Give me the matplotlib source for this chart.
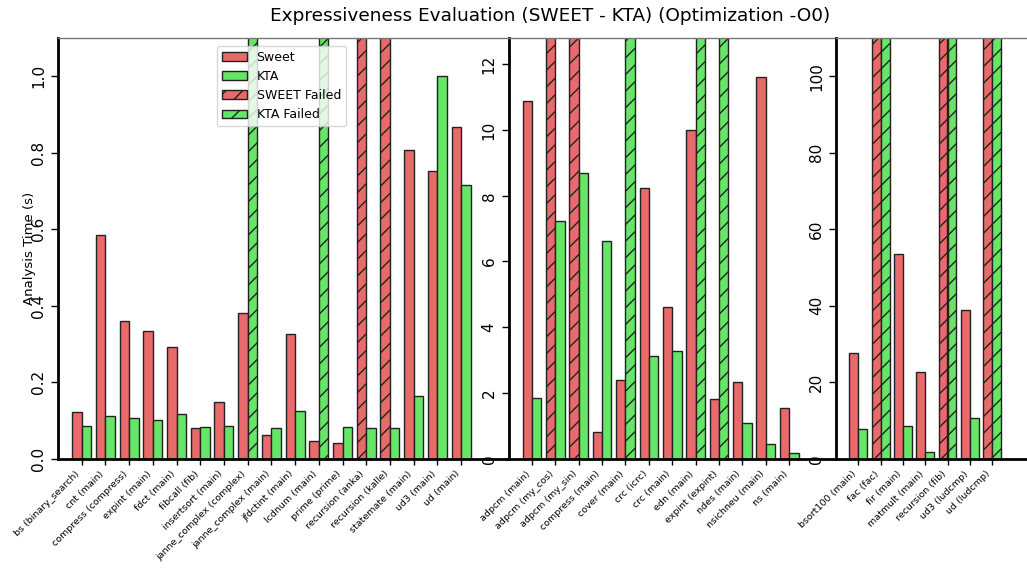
import numpy as np
import matplotlib
matplotlib.use("Agg")
import matplotlib.pyplot as plt
from matplotlib.patches import Patch

# ---------------- data ----------------
labels1 = ["bs (binary_search)", "cnt (main)", "compress (compress)", "expint (main)",
           "fdct (main)", "fibcall (fib)", "insertsort (main)", "janne_complex (complex)",
           "janne_complex (main)", "jfdctint (main)", "lcdnum (main)", "prime (prime)",
           "recursion (anka)", "recursion (kalle)", "statemate (main)", "ud3 (main)", "ud (main)"]
sweet1 = [0.122, 0.584, 0.361, 0.333, 0.293, 0.080, 0.148, 0.380, 0.062, 0.326, 0.046,
          0.041, None, None, 0.806, 0.752, 0.867]
kta1 = [0.086, 0.111, 0.107, 0.101, 0.118, 0.084, 0.085, None, 0.080, 0.125, None,
        0.083, 0.080, 0.080, 0.164, 1.000, 0.715]

labels2 = ["adpcm (main)", "adpcm (my_cos)", "adpcm (my_sin)", "compress (main)",
           "cover (main)", "crc (icrc)", "crc (main)", "edn (main)", "expint (expint)",
           "ndes (main)", "nsichneu (main)", "ns (main)"]
sweet2 = [10.89, None, None, 0.82, 2.38, 8.25, 4.62, 10.0, 1.81, 2.32, 11.62, 1.55]
kta2 = [1.86, 7.22, 8.69, 6.63, None, 3.11, 3.28, None, None, 1.08, 0.45, 0.18]

labels3 = ["bsort100 (main)", "fac (fac)", "fir (main)", "matmult (main)",
           "recursion (fib)", "ud3 (ludcmp)", "ud (ludcmp)"]
sweet3 = [27.6, None, 53.4, 22.6, None, 38.8, None]
kta3 = [7.85, None, 8.56, 1.75, None, 10.7, None]

ylims = [1.1, 12.8, 110]
yticks = [[0.0, 0.2, 0.4, 0.6, 0.8, 1.0], [0, 2, 4, 6, 8, 10, 12], [0, 20, 40, 60, 80, 100]]
ytick_fmt = ["{:.1f}", "{:d}", "{:d}"]

title = "Expressiveness Evaluation (SWEET - KTA) (Optimization -O0)"
ylabel = "Analysis Time (s)"

RED = "#e86a6a"
GREEN = "#66e666"

W, H = 1027, 568
fig = plt.figure(figsize=(W / 100, H / 100), dpi=100)
plt.rcParams['hatch.linewidth'] = 1.0

bottom = (H - 458.7) / H
top = (H - 38) / H
height = top - bottom
positions = [(58, 508.5), (508.5, 836), (836, 1036.7)]

groups = [(labels1, sweet1, kta1), (labels2, sweet2, kta2), (labels3, sweet3, kta3)]
axes = []
for i, ((labs, sw, kt), (l, r)) in enumerate(zip(groups, positions)):
    ax = fig.add_axes([l / W, bottom, (r - l) / W, height])
    axes.append(ax)
    n = len(labs)
    x = np.arange(n)
    ymax = ylims[i]
    bw = 0.4
    for j in range(n):
        s = sw[j]
        k = kt[j]
        if s is None:
            ax.bar(x[j] - bw / 2, ymax * 1.05, bw, color=RED, edgecolor="#222222",
                   linewidth=1.0, hatch="//")
        else:
            ax.bar(x[j] - bw / 2, s, bw, color=RED, edgecolor="#222222", linewidth=1.0)
        if k is None:
            ax.bar(x[j] + bw / 2, ymax * 1.05, bw, color=GREEN, edgecolor="#222222",
                   linewidth=1.0, hatch="//")
        else:
            ax.bar(x[j] + bw / 2, k, bw, color=GREEN, edgecolor="#222222", linewidth=1.0)
    ax.set_xlim(-1, n + 1)
    ax.set_ylim(0, ymax)
    ax.set_xticks(x)
    ax.set_xticklabels(labs, rotation=45, ha="right", fontsize=6.8)
    ax.set_yticks(yticks[i])
    ax.set_yticklabels([ytick_fmt[i].format(v) for v in yticks[i]], rotation=90,
                       va="center", fontsize=11)
    ax.tick_params(axis="x", length=4, width=1, direction="out")
    ax.tick_params(axis="y", length=5, width=1, direction="out")
    ax.spines["left"].set_linewidth(2)
    ax.spines["left"].set_color("black")
    ax.spines["bottom"].set_linewidth(2)
    ax.spines["bottom"].set_color("black")
    ax.spines["top"].set_linewidth(1)
    ax.spines["top"].set_color("#777777")
    ax.spines["right"].set_visible(False)

axes[0].set_ylabel(ylabel, fontsize=9.5)
axes[0].yaxis.set_label_coords(-0.049, 0.5)

handles = [Patch(facecolor=RED, edgecolor="#222222", label="Sweet"),
           Patch(facecolor=GREEN, edgecolor="#222222", label="KTA"),
           Patch(facecolor=RED, edgecolor="#222222", hatch="//", label="SWEET Failed"),
           Patch(facecolor=GREEN, edgecolor="#222222", hatch="//", label="KTA Failed")]
axes[0].legend(handles=handles, loc="upper left", bbox_to_anchor=(0.338, 0.997),
               fontsize=9, framealpha=0.8)

fig.text(550 / W, 0.972, title, ha="center", va="center", fontsize=13.3)

fig.savefig("out.png", dpi=100)
